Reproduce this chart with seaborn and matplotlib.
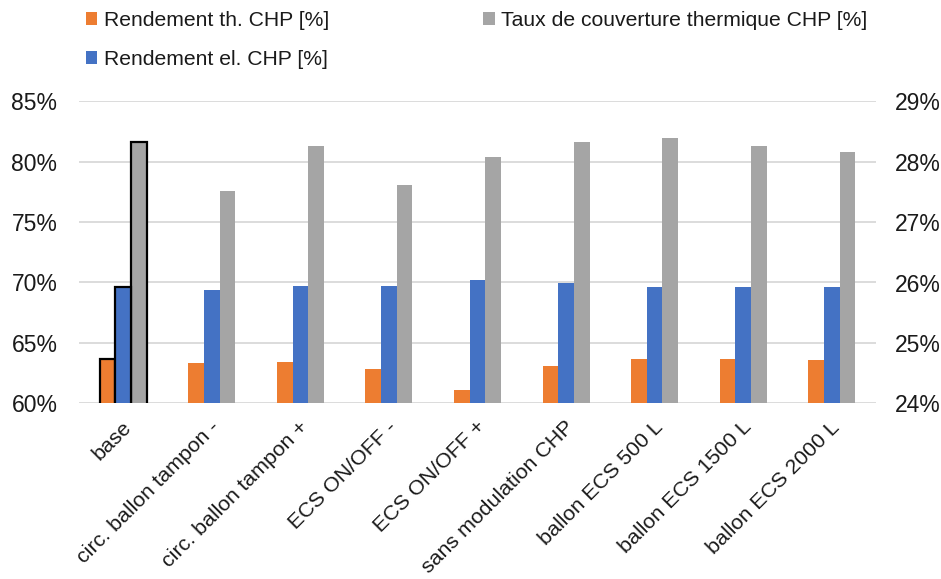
import matplotlib
matplotlib.use("Agg")
import matplotlib.pyplot as plt
import matplotlib.transforms as mtransforms
from matplotlib.patches import Patch
from matplotlib.ticker import FuncFormatter
import seaborn as sns
import pandas as pd
import numpy as np

categories = ["base", "circ. ballon tampon -", "circ. ballon tampon +", "ECS ON/OFF -",
              "ECS ON/OFF +", "sans modulation CHP", "ballon ECS 500 L",
              "ballon ECS 1500 L", "ballon ECS 2000 L"]
rend_th = [63.7, 63.3, 63.4, 62.8, 61.1, 63.1, 63.7, 63.7, 63.6]          # left axis
rend_el = [25.93, 25.87, 25.94, 25.95, 26.04, 26.0, 25.93, 25.93, 25.93]  # right axis
taux_couv = [81.6, 77.6, 81.3, 78.1, 80.4, 81.6, 82.0, 81.3, 80.8]        # left axis

s_th = "Rendement th. CHP [%]"
s_el = "Rendement el. CHP [%]"
s_tc = "Taux de couverture thermique CHP [%]"
series_order = [s_th, s_el, s_tc]
colors = {s_th: "#ED7D31", s_el: "#4472C4", s_tc: "#A5A5A5"}

df_left = pd.concat([
    pd.DataFrame({"cat": categories, "serie": s_th, "val": rend_th}),
    pd.DataFrame({"cat": categories, "serie": s_tc, "val": taux_couv}),
])
df_right = pd.DataFrame({"cat": categories, "serie": s_el, "val": rend_el})

sns.set_theme(style="white")
plt.rcParams["font.family"] = ["Liberation Sans", "DejaVu Sans"]

fig = plt.figure(figsize=(9.41, 5.79), dpi=100)
ax = fig.add_axes([79/941, 1-403.3/579, (876-79)/941, (403.3-101.3)/579])
ax2 = ax.twinx()

bw = 0.53
sns.barplot(data=df_left, x="cat", y="val", hue="serie", order=categories,
            hue_order=series_order, palette=colors, width=bw, ax=ax, dodge=True,
            legend=False, saturation=1, edgecolor="none", linewidth=0, errorbar=None)
sns.barplot(data=df_right, x="cat", y="val", hue="serie", order=categories,
            hue_order=series_order, palette=colors, width=bw, ax=ax2, dodge=True,
            legend=False, saturation=1, edgecolor="none", linewidth=0, errorbar=None)

# outline the "base" bars
for a in (ax, ax2):
    for cont in a.containers:
        if len(cont.patches) > 0:
            p = cont.patches[0]
            p.set_edgecolor("black")
            p.set_linewidth(1.6)

ax.set_ylim(60, 85)
ax.set_yticks([60, 65, 70, 75, 80, 85])
ax2.set_ylim(24, 29)
ax2.set_yticks([24, 25, 26, 27, 28, 29])
ax.yaxis.set_major_formatter(FuncFormatter(lambda v, p: f"{v:.0f}%"))
ax2.yaxis.set_major_formatter(FuncFormatter(lambda v, p: f"{v:.0f}%"))
ax.set_xlim(-0.5, len(categories) - 0.5)

ax.grid(axis="y", color="#D9D9D9", linewidth=1.3)
ax.set_axisbelow(True)
for a in (ax, ax2):
    for s in a.spines.values():
        s.set_visible(False)
    a.set_xlabel("")
    a.set_ylabel("")

txtc = "#1a1a1a"
ax.tick_params(axis="y", length=0, pad=15.5, labelsize=16.5, labelcolor=txtc)
ax2.tick_params(axis="y", length=0, pad=13.5, labelsize=16.5, labelcolor=txtc)
ax.tick_params(axis="x", length=0, pad=15, labelsize=15.4, labelcolor=txtc)
ax.set_xticks(range(len(categories)))
ax.set_xticklabels(categories, rotation=45, ha="right", va="center",
                   rotation_mode="anchor")
offset = mtransforms.ScaledTranslation(5/100, 0, fig.dpi_scale_trans)
for lbl in ax.get_xticklabels():
    lbl.set_transform(lbl.get_transform() + offset)

handles = [Patch(facecolor=colors[s], edgecolor="none", label=s) for s in series_order]
fig.legend(handles=handles, loc="upper left", bbox_to_anchor=(71/941, 1 + 4/579),
           ncol=2, frameon=False, fontsize=15.2, handlelength=0.55, handleheight=0.55,
           handletextpad=0.3, columnspacing=7.3, labelspacing=0.95, borderpad=0.2,
           labelcolor=txtc)

fig.savefig("out.png", dpi=100)
